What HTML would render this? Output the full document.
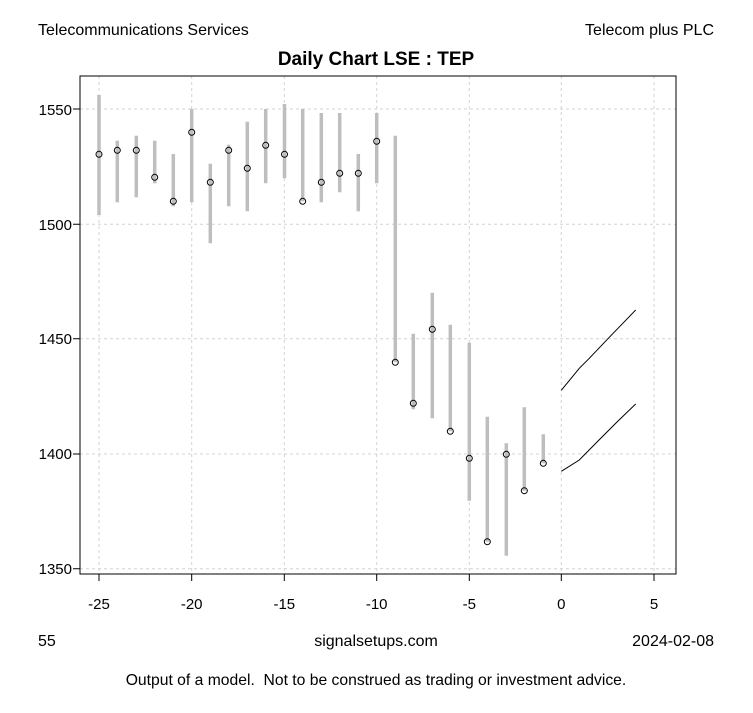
<!DOCTYPE html>
<html><head><meta charset="utf-8"><style>
html,body{margin:0;padding:0;background:#fff;}
svg text{font-family:"Liberation Sans",Arial,sans-serif;fill:#000;white-space:pre;}
</style></head><body>
<svg width="753" height="708" viewBox="0 0 753 708" xmlns="http://www.w3.org/2000/svg" xml:space="preserve">
<rect width="753" height="708" fill="#fff"/>
<g stroke="#d3d3d3" stroke-width="1" stroke-dasharray="3,3">
<line x1="80" x2="676" y1="109" y2="109"/><line x1="80" x2="676" y1="224.3" y2="224.3"/>
<line x1="80" x2="676" y1="338.7" y2="338.7"/><line x1="80" x2="676" y1="454" y2="454"/>
<line x1="80" x2="676" y1="568.7" y2="568.7"/>
<line y1="76" y2="574" x1="99" x2="99"/><line y1="76" y2="574" x1="191.7" x2="191.7"/>
<line y1="76" y2="574" x1="284.3" x2="284.3"/><line y1="76" y2="574" x1="376.7" x2="376.7"/>
<line y1="76" y2="574" x1="469.3" x2="469.3"/><line y1="76" y2="574" x1="561.3" x2="561.3"/>
<line y1="76" y2="574" x1="654" x2="654"/>
</g>
<g stroke="#bebebe" stroke-width="3.5">
<line x1="99" x2="99" y1="95" y2="215"/>
<line x1="117.3" x2="117.3" y1="140.7" y2="202.3"/>
<line x1="136.3" x2="136.3" y1="135.7" y2="197.3"/>
<line x1="154.7" x2="154.7" y1="140.7" y2="183.3"/>
<line x1="173.3" x2="173.3" y1="154" y2="206.3"/>
<line x1="191.7" x2="191.7" y1="109" y2="202.3"/>
<line x1="210.3" x2="210.3" y1="163.7" y2="243.3"/>
<line x1="228.7" x2="228.7" y1="144.7" y2="206.3"/>
<line x1="247.3" x2="247.3" y1="121.7" y2="211.3"/>
<line x1="265.7" x2="265.7" y1="109" y2="183.3"/>
<line x1="284.5" x2="284.5" y1="104" y2="178.3"/>
<line x1="302.7" x2="302.7" y1="109" y2="201.3"/>
<line x1="321.3" x2="321.3" y1="113" y2="202.3"/>
<line x1="339.7" x2="339.7" y1="113" y2="192.3"/>
<line x1="358.3" x2="358.3" y1="154" y2="211.3"/>
<line x1="376.7" x2="376.7" y1="113" y2="183.3"/>
<line x1="395.3" x2="395.3" y1="135.7" y2="362.3"/>
<line x1="413.3" x2="413.3" y1="333.7" y2="409.3"/>
<line x1="432.3" x2="432.3" y1="292.7" y2="418.3"/>
<line x1="450.3" x2="450.3" y1="324.7" y2="431.3"/>
<line x1="469.3" x2="469.3" y1="342.7" y2="500.7"/>
<line x1="487.3" x2="487.3" y1="416.7" y2="541.7"/>
<line x1="506.3" x2="506.3" y1="443.3" y2="555.7"/>
<line x1="524.3" x2="524.3" y1="407.3" y2="490.7"/>
<line x1="543.3" x2="543.3" y1="434.3" y2="463.3"/>
</g>
<g fill="none" stroke="#000" stroke-width="1">
<circle cx="99" cy="154.3" r="3"/><circle cx="117.3" cy="150.3" r="3"/><circle cx="136.3" cy="150.3" r="3"/>
<circle cx="154.7" cy="177.3" r="3"/><circle cx="173.3" cy="201.3" r="3"/><circle cx="191.7" cy="132.3" r="3"/>
<circle cx="210.3" cy="182.3" r="3"/><circle cx="228.7" cy="150.3" r="3"/><circle cx="247.3" cy="168.3" r="3"/>
<circle cx="265.7" cy="145.3" r="3"/><circle cx="284.5" cy="154.3" r="3"/><circle cx="302.7" cy="201.3" r="3"/>
<circle cx="321.3" cy="182.3" r="3"/><circle cx="339.7" cy="173.3" r="3"/><circle cx="358.3" cy="173.3" r="3"/>
<circle cx="376.7" cy="141.3" r="3"/><circle cx="395.3" cy="362.3" r="3"/><circle cx="413.3" cy="403.3" r="3"/>
<circle cx="432.3" cy="329.3" r="3"/><circle cx="450.3" cy="431.3" r="3"/><circle cx="469.3" cy="458.3" r="3"/>
<circle cx="487.3" cy="541.7" r="3"/><circle cx="506.3" cy="454.3" r="3"/><circle cx="524.3" cy="490.7" r="3"/>
<circle cx="543.3" cy="463.3" r="3"/>
<polyline points="561.3,390.3 579.3,368.3 589.3,358.3 608.3,338.3 626.7,319.3 635.7,310"/>
<polyline points="561.3,471.3 579.3,460 598,441 617,422 635.7,404"/>
<rect x="80" y="76" width="596" height="498"/>
<path d="M99,574v7M191.7,574v7M284.3,574v7M376.7,574v7M469.3,574v7M561.3,574v7M654,574v7M99,574H654"/>
<path d="M80,109h-7M80,224.3h-7M80,338.7h-7M80,454h-7M80,568.7h-7M80,109V568.7"/>
</g>
<g font-size="15" text-anchor="end">
<text x="72" y="115">1550</text><text x="72" y="230">1500</text><text x="72" y="344">1450</text>
<text x="72" y="459">1400</text><text x="72" y="574">1350</text>
</g>
<g font-size="15" text-anchor="middle">
<text x="99" y="609">-25</text><text x="191.7" y="609">-20</text><text x="284.3" y="609">-15</text>
<text x="376.7" y="609">-10</text><text x="469.3" y="609">-5</text><text x="561.3" y="609">0</text><text x="654" y="609">5</text>
<text x="376" y="65" font-weight="bold" font-size="19">Daily Chart LSE : TEP</text>
<text x="376" y="646" font-size="16">signalsetups.com</text>
<text x="376" y="685" font-size="15.7">Output of a model.  Not to be construed as trading or investment advice.</text>
</g>
<g font-size="16">
<text x="38" y="35">Telecommunications Services</text>
<text x="714" y="35" text-anchor="end">Telecom plus PLC</text>
<text x="38" y="646">55</text>
<text x="714" y="646" text-anchor="end">2024-02-08</text>
</g>
</svg>
</body></html>
